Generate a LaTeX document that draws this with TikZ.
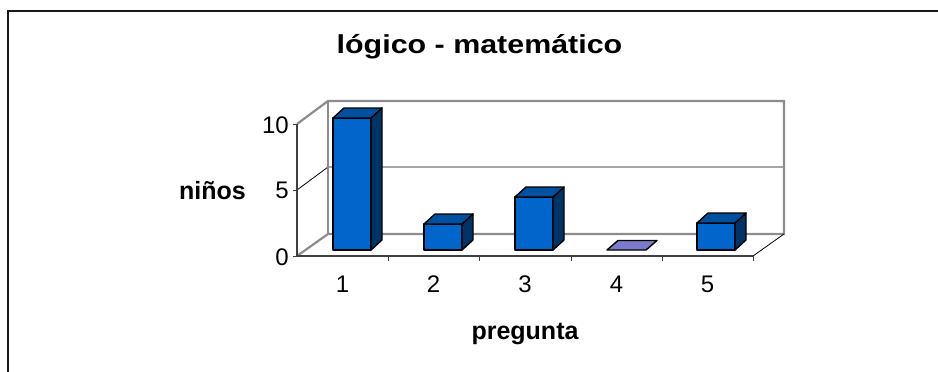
\documentclass[tikz,border=0pt]{standalone}
\usepackage{graphicx}
\usepackage{fontspec}
\setmainfont{Liberation Sans}
\definecolor{barfront}{HTML}{0066CC}
\definecolor{bartop}{HTML}{0050A0}
\definecolor{barside}{HTML}{003366}
\definecolor{flatbar}{HTML}{7B7BCB}
\definecolor{wallgray}{HTML}{8C8C8C}
\definecolor{axisgray}{HTML}{404040}
\newcommand\mybar[2]{% #1 = left x of front face, #2 = top y of front face
  \draw[barline, fill=barfront] (#1,250) rectangle (#1+38,#2);
  \draw[barline, fill=barside] (#1+38,250) -- (#1+49,240) -- (#1+49,#2-10) -- (#1+38,#2) -- cycle;
  \draw[barline, fill=bartop] (#1,#2) -- (#1+11,#2-10) -- (#1+49,#2-10) -- (#1+38,#2) -- cycle;
}
\begin{document}
\begin{tikzpicture}[x=1pt,y=-1pt,
  frameline/.style={draw=black!90, line width=1.5pt},
  wall/.style={draw=wallgray, line width=2.2pt},
  axisline/.style={draw=axisgray, line width=2pt},
  grid/.style={draw=black, line width=0.8pt},
  tickline/.style={draw=axisgray, line width=0.8pt},
  barline/.style={draw=black, line width=1.4pt, line join=round},
  numlabel/.style={font=\fontsize{24}{28}\selectfont, inner sep=0pt},
  boldlabel/.style={font=\fontsize{25}{30}\selectfont\bfseries, inner sep=0pt}]
\useasboundingbox (0,0) rectangle (938,372);
% outer frame (top and left edges visible)
\coordinate (fbl) at (8,373);
\coordinate (ftl) at (8,11);
\coordinate (ftr) at (939,11);
\draw[frameline] (fbl) -- (ftl) -- (ftr);
% title
\node[font=\fontsize{26}{30}\selectfont\bfseries, anchor=base, inner sep=0pt] (title) at (479.5,53) {\scalebox{1.17}[1]{lógico - matemático}};
% walls
\coordinate (f0) at (297,256);
\coordinate (f10) at (297,124);
\coordinate (f5) at (297,190);
\coordinate (b0) at (328,234);
\coordinate (b10) at (328,101);
\coordinate (b5) at (328,167);
\coordinate (r0) at (784,234);
\coordinate (r10) at (784,101);
\coordinate (r5) at (784,167);
\coordinate (fr0) at (753,256);
\draw[grid] (f5) -- (b5) -- (r5);
\draw[wall] (f10) -- (b10) -- (r10) -- (r0) -- (b0) -- (f0);
\draw[wall] (b10) -- (b0);
\draw[grid] (fr0) -- (r0);
% bars
\mybar{333}{118}
\mybar{424}{224}
\mybar{515}{197}
\draw[barline, fill=flatbar] (607,250) -- (618,240.5) -- (657,240.5) -- (646,250) -- cycle;
\mybar{697}{223}
% front axes
\draw[axisline] (f10) -- (f0) -- (fr0);
\foreach \yy in {124,190,256} \draw[tickline] (293,\yy) -- (297,\yy);
\foreach \xx in {388,479,571,662,753} \draw[tickline] (\xx,256) -- (\xx,261);
% axis numbers
\node[numlabel, anchor=base east] (y10) at (289,133) {10};
\node[numlabel, anchor=base east] (y5) at (289,198) {5};
\node[numlabel, anchor=base east] (y0) at (289,265) {0};
\node[numlabel, anchor=base] (c1) at (342.5,292) {1};
\node[numlabel, anchor=base] (c2) at (433.5,292) {2};
\node[numlabel, anchor=base] (c3) at (525,292) {3};
\node[numlabel, anchor=base] (c4) at (616.5,292) {4};
\node[numlabel, anchor=base] (c5) at (707.5,292) {5};
% axis titles
\node[boldlabel, anchor=base] (ylab) at (212.5,199) {niños};
\node[boldlabel, anchor=base] (xlab) at (525,339) {pregunta};
\end{tikzpicture}
\end{document}
